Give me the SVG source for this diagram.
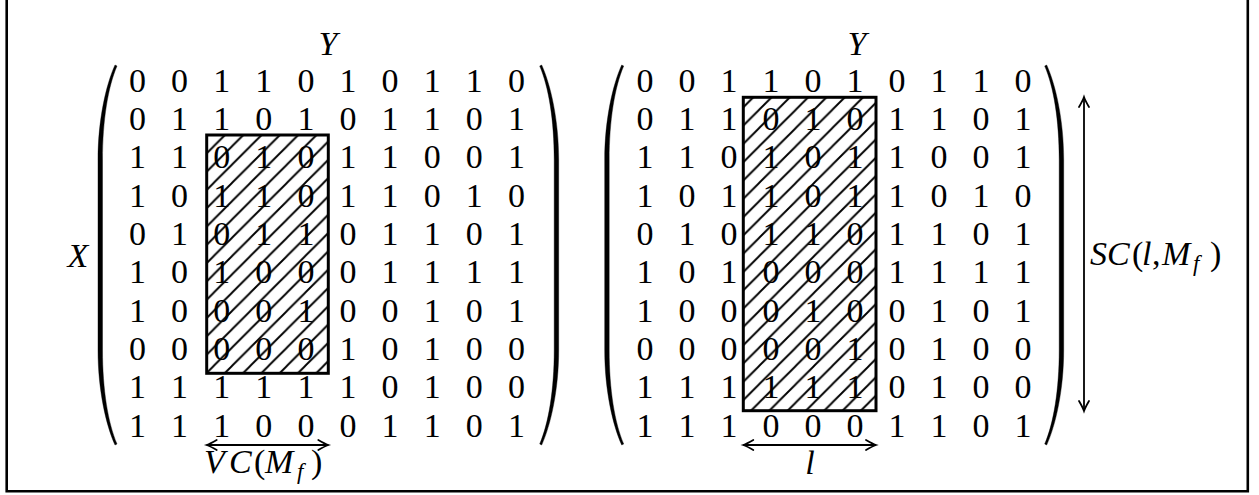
<svg xmlns="http://www.w3.org/2000/svg" width="1259" height="495" viewBox="0 0 1259 495">
<style>
.d{font-family:"Liberation Serif","DejaVu Serif",serif;font-size:34px;fill:#000;text-anchor:middle}
.m{font-family:"Liberation Serif","DejaVu Serif",serif;font-size:34px;fill:#000}
.i{font-style:italic}
.sub{font-style:italic;font-size:23px}
.par{fill:#000;stroke:#000;stroke-width:0.4}
.box{stroke:#000;stroke-width:3}
.arr{stroke:#000;stroke-width:1.8;fill:none;marker-start:url(#tip);marker-end:url(#tip)}
.frame{fill:none;stroke:#000;stroke-width:2.6}
</style>
<defs>
<path id="lp" d="M0,0 C-9,20 -17,55 -17,95 L-17,285 C-17,325 -9,360 0,380 L2,379 C-7,358 -12.5,325 -12.5,285 L-12.5,95 C-12.5,55 -7,22 2,1 Z"/>
<pattern id="hatchL" patternUnits="userSpaceOnUse" x="12.3" y="0" width="18.3" height="18.3">
<path d="M-2,20.3 L20.3,-2 M-2,2 L2,-2 M16.3,20.3 L20.3,16.3" stroke="#000" stroke-width="1.9"/>
</pattern>
<pattern id="hatchR" patternUnits="userSpaceOnUse" x="8.8" y="0" width="18.3" height="18.3">
<path d="M-2,20.3 L20.3,-2 M-2,2 L2,-2 M16.3,20.3 L20.3,16.3" stroke="#000" stroke-width="1.9"/>
</pattern>
<marker id="tip" markerUnits="userSpaceOnUse" markerWidth="18" markerHeight="18" viewBox="-14 -9 18 18" refX="0" refY="0" orient="auto-start-reverse">
<path d="M-10,-5 Q-3.5,-1.2 0,0 Q-3.5,1.2 -10,5" fill="none" stroke="#000" stroke-width="1.8" stroke-linecap="round"/>
</marker>
</defs>

<path id="frame" class="frame" d="M6.7,0 V491.3 H1247.8 V0"/>

<g id="matrixLeft">
<use href="#lp" class="par" transform="translate(115,65)"/>
<use href="#lp" class="par" transform="translate(541.7,65) scale(-1,1)"/>
<g class="d">
<text x="137.5 179.6 221.7 263.8 305.9 348 390.1 432.2 474.3 516.4" y="91.7">0011010110</text>
<text x="137.5 179.6 221.7 263.8 305.9 348 390.1 432.2 474.3 516.4" y="130">0110101101</text>
<text x="137.5 179.6 221.7 263.8 305.9 348 390.1 432.2 474.3 516.4" y="168.4">1101011001</text>
<text x="137.5 179.6 221.7 263.8 305.9 348 390.1 432.2 474.3 516.4" y="206.7">1011011010</text>
<text x="137.5 179.6 221.7 263.8 305.9 348 390.1 432.2 474.3 516.4" y="245">0101101101</text>
<text x="137.5 179.6 221.7 263.8 305.9 348 390.1 432.2 474.3 516.4" y="283.4">1010001111</text>
<text x="137.5 179.6 221.7 263.8 305.9 348 390.1 432.2 474.3 516.4" y="321.7">1000100101</text>
<text x="137.5 179.6 221.7 263.8 305.9 348 390.1 432.2 474.3 516.4" y="360">0000010100</text>
<text x="137.5 179.6 221.7 263.8 305.9 348 390.1 432.2 474.3 516.4" y="398.4">1111110100</text>
<text x="137.5 179.6 221.7 263.8 305.9 348 390.1 432.2 474.3 516.4" y="436.7">1110001101</text>
</g>
<rect class="box" x="206.7" y="135" width="121.6" height="238.3" fill="url(#hatchL)"/>
</g>

<g id="matrixRight">
<use href="#lp" class="par" transform="translate(621.7,65)"/>
<use href="#lp" class="par" transform="translate(1046.7,65) scale(-1,1)"/>
<g class="d">
<text x="645 687 729 771 813 855 897 939 981 1023" y="91.7">0011010110</text>
<text x="645 687 729 771 813 855 897 939 981 1023" y="130">0110101101</text>
<text x="645 687 729 771 813 855 897 939 981 1023" y="168.4">1101011001</text>
<text x="645 687 729 771 813 855 897 939 981 1023" y="206.7">1011011010</text>
<text x="645 687 729 771 813 855 897 939 981 1023" y="245">0101101101</text>
<text x="645 687 729 771 813 855 897 939 981 1023" y="283.4">1010001111</text>
<text x="645 687 729 771 813 855 897 939 981 1023" y="321.7">1000100101</text>
<text x="645 687 729 771 813 855 897 939 981 1023" y="360">0000010100</text>
<text x="645 687 729 771 813 855 897 939 981 1023" y="398.4">1111110100</text>
<text x="645 687 729 771 813 855 897 939 981 1023" y="436.7">1110001101</text>
</g>
<rect class="box" x="743.3" y="97.3" width="132.7" height="313.4" fill="url(#hatchR)"/>
</g>

<g id="labels">
<text id="labelYLeft" class="m i" x="328" y="55" text-anchor="middle">Y</text>
<text id="labelYRight" class="m i" x="857" y="55" text-anchor="middle">Y</text>
<text id="labelX" class="m i" x="78" y="267" text-anchor="middle">X</text>
<text id="labelVC" class="m" y="473.3"><tspan class="i" x="204">V</tspan><tspan class="i" x="229">C</tspan><tspan x="254">(</tspan><tspan class="i" x="265">M</tspan><tspan class="sub" x="297" dy="6">f</tspan><tspan x="311" dy="-6">)</tspan></text>
<text id="labelL" class="m i" x="810" y="474" text-anchor="middle">l</text>
<text id="labelSC" class="m" y="265"><tspan class="i" x="1090">S</tspan><tspan class="i" x="1107">C</tspan><tspan x="1132">(</tspan><tspan class="i" x="1142">l</tspan><tspan x="1152">,</tspan><tspan class="i" x="1162">M</tspan><tspan class="sub" x="1193" dy="6">f</tspan><tspan x="1210" dy="-6">)</tspan></text>
</g>

<g id="connectors">
<path class="arr" d="M206.7,445 H328.3"/>
<path class="arr" d="M743.3,445 H876"/>
<path class="arr" d="M1084,97 V411"/>
</g>
</svg>
